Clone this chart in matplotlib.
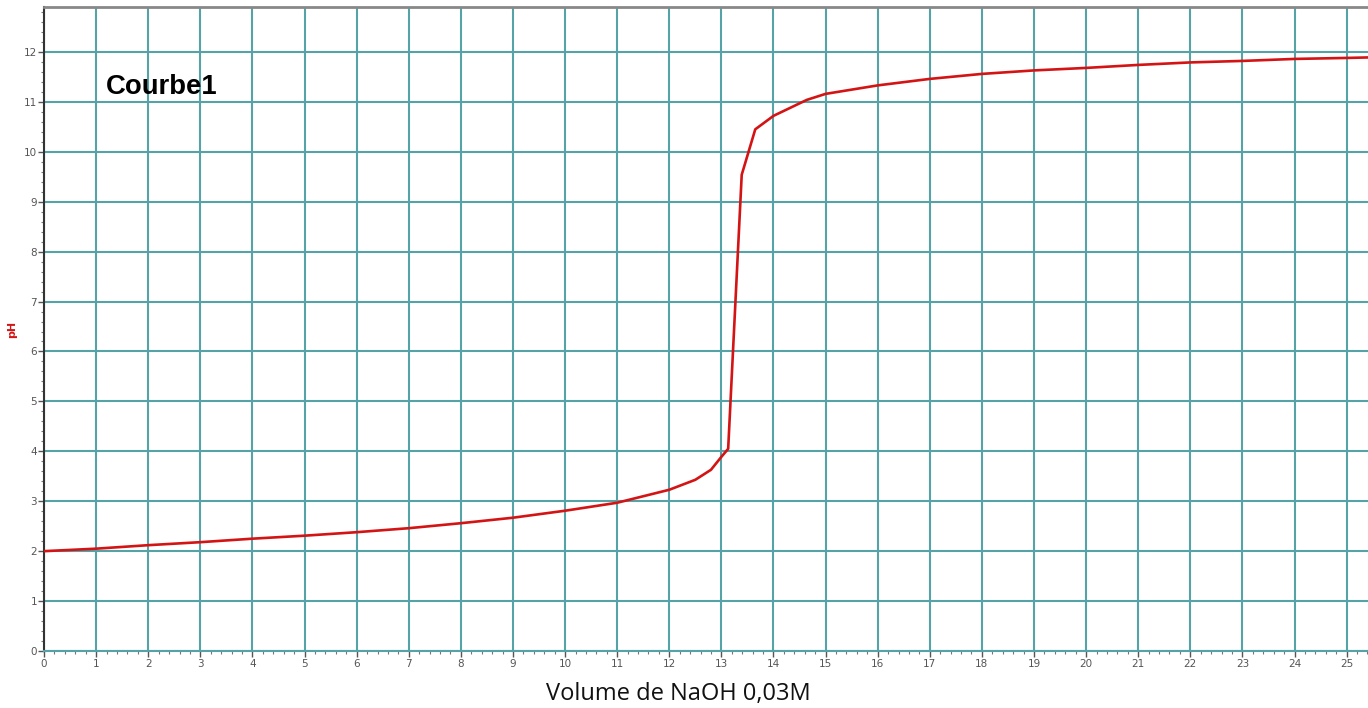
import matplotlib
matplotlib.use("Agg")
import matplotlib.pyplot as plt
from matplotlib.ticker import MultipleLocator

# volume de NaOH (mL) et pH
volume = [0, 1, 2, 3, 4, 5, 6, 7, 8, 9, 10, 11, 12, 12.5, 12.8, 13.0, 13.13,
          13.39, 13.65, 14.0, 14.32, 14.64, 15, 16, 17, 18, 19, 20, 21, 22, 23,
          24, 25, 25.42]
ph = [2.0, 2.05, 2.12, 2.18, 2.25, 2.31, 2.38, 2.46, 2.56, 2.67, 2.81, 2.97,
      3.23, 3.43, 3.63, 3.89, 4.05, 9.54, 10.45, 10.72, 10.88, 11.04, 11.16,
      11.33, 11.46, 11.56, 11.63, 11.68, 11.74, 11.79, 11.82, 11.86, 11.88,
      11.89]

x_ticks = list(range(0, 26))
y_ticks = list(range(0, 13))

grid_col = "#55a3a6"

fig = plt.figure(figsize=(13.68, 7.08), dpi=100)
ax = fig.add_axes([0.0322, 0.0805, 0.9678, 0.9096])

ax.plot(volume, ph, color="#d41414", lw=1.9, zorder=3)

ax.set_xlim(0, 25.41)
ax.set_ylim(0, 12.9)
ax.set_xticks(x_ticks)
ax.set_yticks(y_ticks)
ax.xaxis.set_minor_locator(MultipleLocator(0.2))
ax.yaxis.set_minor_locator(MultipleLocator(0.2))
ax.grid(True, which="major", color=grid_col, lw=1.5)
ax.set_axisbelow(True)

ax.tick_params(axis="both", which="major", labelsize=7.5, labelcolor="#555555",
               color="#555555", length=4, width=1)
ax.tick_params(axis="both", which="minor", color="#777777", length=2.5, width=0.8)
ax.tick_params(axis="x", pad=2)
ax.tick_params(axis="y", pad=1)

ax.spines["right"].set_visible(False)
ax.spines["top"].set_color("#888888")
ax.spines["top"].set_linewidth(2)
ax.spines["left"].set_color("#333333")
ax.spines["left"].set_linewidth(1.5)
ax.spines["bottom"].set_color(grid_col)
ax.spines["bottom"].set_linewidth(1.5)

ax.set_ylabel("pH", color="#d41414", fontsize=8, fontweight="bold")
ax.yaxis.set_label_coords(-0.0205, 0.5)
fig.text(0.496, 0.02, "Volume de NaOH 0,03M", ha="center", va="center",
         fontsize=17, family="Open Sans", color="#111111")

ax.text(1.19, 11.3, "Courbe1", fontsize=19.8, fontweight="bold",
        family="Liberation Sans", va="center", ha="left", color="black")

fig.savefig("out.png", dpi=100)
